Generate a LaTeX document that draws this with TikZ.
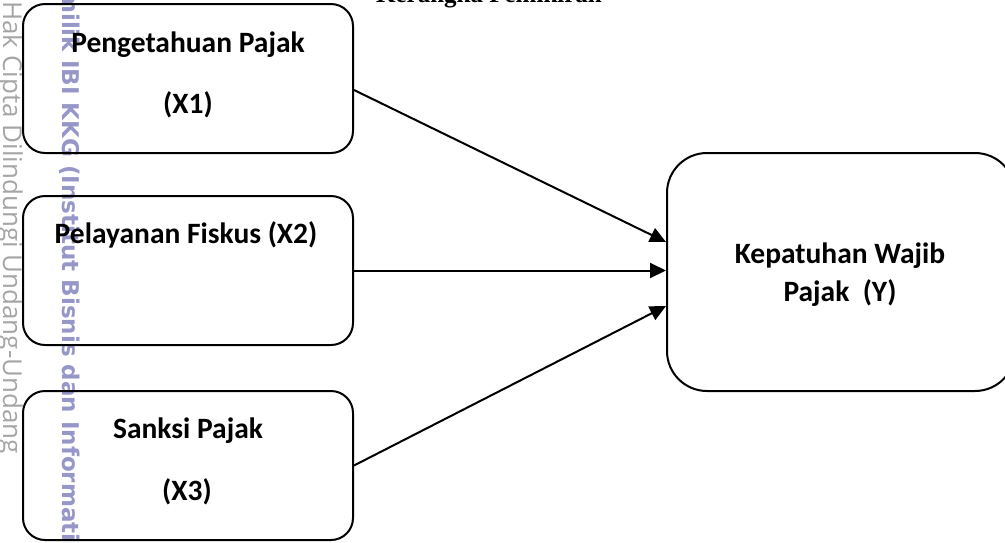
\documentclass[tikz,border=0pt]{standalone}
\usepackage{fontspec}
\usetikzlibrary{arrows.meta,calc}
\newfontfamily\calib{Carlito}
\newfontfamily\wmfont{DejaVu Sans}
\newfontfamily\cpfont{Open Sans}
\newfontfamily\ttlfont{Liberation Serif}
\definecolor{wmpurple}{RGB}{150,150,200}
\definecolor{wmgrey}{RGB}{165,165,165}
\tikzset{
  varbox/.style={draw=black, line width=2pt, rounded corners=22pt,
    minimum width=330pt, minimum height=149pt, inner sep=0pt},
  depbox/.style={draw=black, line width=2pt, rounded corners=40pt,
    minimum width=348pt, minimum height=238pt, inner sep=0pt},
  lbl/.style={inner sep=0pt, anchor=base, font=\calib\bfseries\fontsize{29.5}{34}\selectfont},
  link/.style={line width=2pt, -{Triangle[length=16pt,width=15pt]}},
  wmark/.style={rotate=-90, anchor=base west, inner sep=0pt},
}
\begin{document}
\begin{tikzpicture}[x=1pt,y=-1pt]
\useasboundingbox (0,0) rectangle (1005,542);
\clip (0,0) rectangle (1005,542);
% partly visible title
\node[inner sep=0pt, anchor=base, font=\ttlfont\bfseries\fontsize{25}{30}\selectfont] (title) at (489,2) {Kerangka Pemikiran};
% watermarks
\node[wmark, text=wmgrey, font=\cpfont\fontsize{26}{30}\selectfont] (wm1) at (3,1) {Hak Cipta Dilindungi Undang-Undang};
\node[wmark, text=wmpurple, font=\wmfont\bfseries\fontsize{23}{26}\selectfont] (wm2) at (62,-11) {milik IBI KKG (Institut Bisnis dan Informatika Kwik Kian Gie)};
% boxes
\node[varbox] (x1) at (188,78.5) {};
\node[varbox] (x2) at (188,270.5) {};
\node[varbox] (x3) at (188,465.5) {};
\node[depbox] (y) at (841,272) {};
% labels
\node[lbl] (x1a) at (188,52) {Pengetahuan Pajak};
\node[lbl] (x1b) at (188,113) {(X1)};
\node[lbl] (x2a) at (186,243) {Pelayanan Fiskus (X2)};
\node[lbl] (x3a) at (188,438) {Sanksi Pajak};
\node[lbl] (x3b) at (187,500) {(X3)};
\node[lbl] (ya) at (840,263) {Kepatuhan Wajib};
\node[lbl] (yb) at (840,301) {Pajak\ \ (Y)};
% connectors
\draw[link] ($(x1.east)+(0,11.5)$) -- ($(y.west)+(0,-30)$);
\draw[link] (x2.east) -- (x2.east -| y.west);
\draw[link] (x3.east) -- ($(y.west)+(0,34)$);
\end{tikzpicture}
\end{document}
